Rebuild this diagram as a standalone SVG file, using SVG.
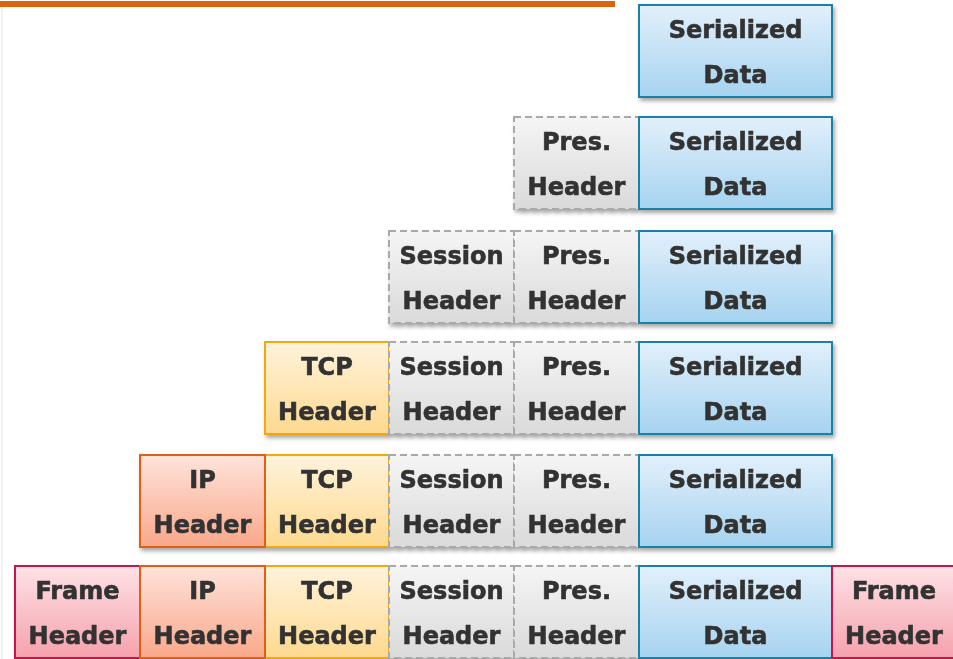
<svg xmlns="http://www.w3.org/2000/svg" width="953" height="659" viewBox="0 0 953 659">
  <defs>
    <linearGradient id="gData" x1="0" y1="0" x2="0" y2="1">
      <stop offset="0" stop-color="#e2f0fb"/>
      <stop offset="1" stop-color="#a6d3f0"/>
    </linearGradient>
    <linearGradient id="gGrey" x1="0" y1="0" x2="0" y2="1">
      <stop offset="0" stop-color="#f5f5f5"/>
      <stop offset="1" stop-color="#dadada"/>
    </linearGradient>
    <linearGradient id="gTcp" x1="0" y1="0" x2="0" y2="1">
      <stop offset="0" stop-color="#fff3dc"/>
      <stop offset="1" stop-color="#fdd98e"/>
    </linearGradient>
    <linearGradient id="gIp" x1="0" y1="0" x2="0" y2="1">
      <stop offset="0" stop-color="#fee3da"/>
      <stop offset="1" stop-color="#f9a88a"/>
    </linearGradient>
    <linearGradient id="gFrame" x1="0" y1="0" x2="0" y2="1">
      <stop offset="0" stop-color="#fee2e6"/>
      <stop offset="1" stop-color="#f6a1ad"/>
    </linearGradient>
    <filter id="shadow" x="-10%" y="-10%" width="125%" height="130%">
      <feDropShadow dx="2" dy="3" stdDeviation="2" flood-color="#000" flood-opacity="0.35"/>
    </filter>
  </defs>
  <style>
    .box { stroke-width: 2; }
    .data { fill: url(#gData); stroke: #1b80a3; }
    .pres, .sess { fill: url(#gGrey); stroke: #a9a9a9; stroke-dasharray: 7 4; }
    .tcp { fill: url(#gTcp); stroke: #f4a80c; }
    .ip { fill: url(#gIp); stroke: #df5f12; }
    .frame { fill: url(#gFrame); stroke: #c2184e; }
    .row { filter: url(#shadow); }
    text { font-family: "DejaVu Sans", Verdana, sans-serif; font-weight: bold; font-size: 24px; fill: #333333; stroke: #333333; stroke-width: 0.6; text-anchor: middle; }
  </style>

  <!-- accent bar and faint left rule -->
  <rect x="0" y="1" width="615" height="6" fill="#dc630f"/>
  <rect x="1" y="7" width="2" height="652" fill="#f1f1f1"/>

  <!-- row 1: data only -->
  <g class="row" id="row1">
    <g id="r1-data"><rect class="box data" x="639" y="5" width="193" height="92"/><text x="735.5" y="38">Serialized</text><text x="735.5" y="83">Data</text></g>
  </g>

  <!-- row 2: presentation header + data -->
  <g class="row" id="row2">
    <g id="r2-pres"><rect class="box pres" x="514" y="117" width="125" height="92"/><text x="576.5" y="150">Pres.</text><text x="576.5" y="195">Header</text></g>
    <g id="r2-data"><rect class="box data" x="639" y="117" width="193" height="92"/><text x="735.5" y="150">Serialized</text><text x="735.5" y="195">Data</text></g>
  </g>

  <!-- row 3: session header added -->
  <g class="row" id="row3">
    <g id="r3-sess"><rect class="box sess" x="389" y="231" width="125" height="92"/><text x="451.5" y="264">Session</text><text x="451.5" y="309">Header</text></g>
    <g id="r3-pres"><rect class="box pres" x="514" y="231" width="125" height="92"/><text x="576.5" y="264">Pres.</text><text x="576.5" y="309">Header</text></g>
    <g id="r3-data"><rect class="box data" x="639" y="231" width="193" height="92"/><text x="735.5" y="264">Serialized</text><text x="735.5" y="309">Data</text></g>
  </g>

  <!-- row 4: TCP header added -->
  <g class="row" id="row4">
    <g id="r4-tcp"><rect class="box tcp" x="265" y="342" width="124" height="92"/><text x="327" y="375">TCP</text><text x="327" y="420">Header</text></g>
    <g id="r4-sess"><rect class="box sess" x="389" y="342" width="125" height="92"/><text x="451.5" y="375">Session</text><text x="451.5" y="420">Header</text></g>
    <g id="r4-pres"><rect class="box pres" x="514" y="342" width="125" height="92"/><text x="576.5" y="375">Pres.</text><text x="576.5" y="420">Header</text></g>
    <g id="r4-data"><rect class="box data" x="639" y="342" width="193" height="92"/><text x="735.5" y="375">Serialized</text><text x="735.5" y="420">Data</text></g>
  </g>

  <!-- row 5: IP header added -->
  <g class="row" id="row5">
    <g id="r5-tcp"><rect class="box tcp" x="265" y="455" width="124" height="92"/><text x="327" y="488">TCP</text><text x="327" y="533">Header</text></g>
    <g id="r5-ip"><rect class="box ip" x="140" y="455" width="125" height="92"/><text x="202.5" y="488">IP</text><text x="202.5" y="533">Header</text></g>
    <g id="r5-sess"><rect class="box sess" x="389" y="455" width="125" height="92"/><text x="451.5" y="488">Session</text><text x="451.5" y="533">Header</text></g>
    <g id="r5-pres"><rect class="box pres" x="514" y="455" width="125" height="92"/><text x="576.5" y="488">Pres.</text><text x="576.5" y="533">Header</text></g>
    <g id="r5-data"><rect class="box data" x="639" y="455" width="193" height="92"/><text x="735.5" y="488">Serialized</text><text x="735.5" y="533">Data</text></g>
  </g>

  <!-- row 6: full frame with header and trailer -->
  <g class="row" id="row6">
    <g id="r6-frame"><rect class="box frame" x="15" y="566" width="125" height="92"/><text x="77.5" y="599">Frame</text><text x="77.5" y="644">Header</text></g>
    <g id="r6-tcp"><rect class="box tcp" x="265" y="566" width="124" height="92"/><text x="327" y="599">TCP</text><text x="327" y="644">Header</text></g>
    <g id="r6-ip"><rect class="box ip" x="140" y="566" width="125" height="92"/><text x="202.5" y="599">IP</text><text x="202.5" y="644">Header</text></g>
    <g id="r6-sess"><rect class="box sess" x="389" y="566" width="125" height="92"/><text x="451.5" y="599">Session</text><text x="451.5" y="644">Header</text></g>
    <g id="r6-pres"><rect class="box pres" x="514" y="566" width="125" height="92"/><text x="576.5" y="599">Pres.</text><text x="576.5" y="644">Header</text></g>
    <g id="r6-data"><rect class="box data" x="639" y="566" width="193" height="92"/><text x="735.5" y="599">Serialized</text><text x="735.5" y="644">Data</text></g>
    <g id="r6-trailer"><rect class="box frame" x="832" y="566" width="125" height="92"/><text x="894" y="599">Frame</text><text x="894" y="644">Header</text></g>
  </g>
</svg>
